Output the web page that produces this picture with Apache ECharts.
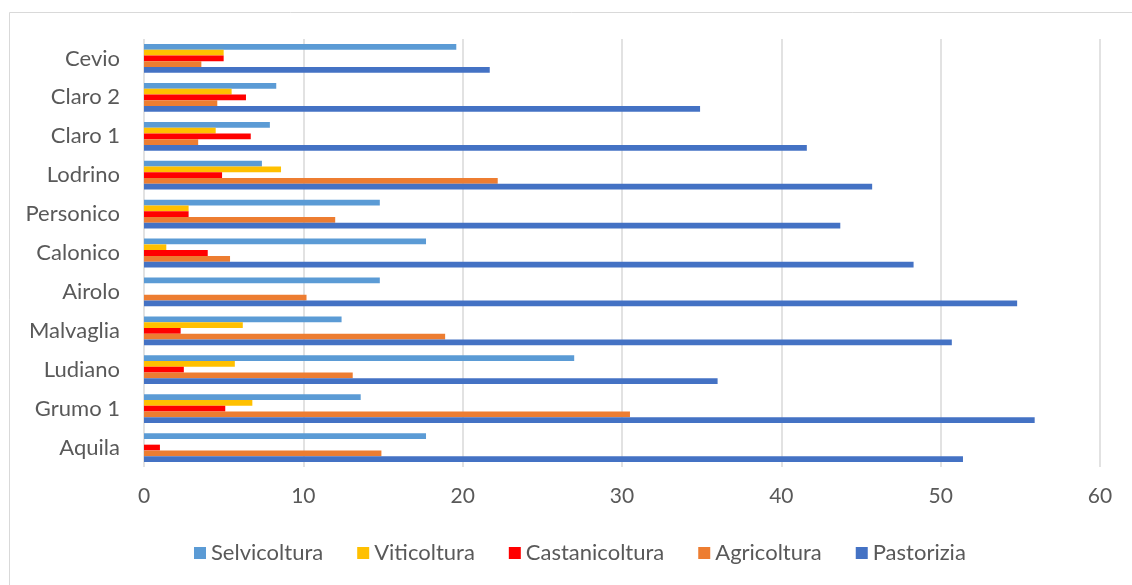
<!DOCTYPE html>
<html>
<head>
<meta charset="utf-8">
<script src="https://cdn.jsdelivr.net/npm/echarts@6/dist/echarts.min.js"></script>
<style>
html,body{margin:0;padding:0;background:#fff;}
#chart{width:1132px;height:585px;}
</style>
</head>
<body>
<div id="chart"></div>
<script>
// Categories listed bottom to top
const categories = ['Aquila', 'Grumo 1', 'Ludiano', 'Malvaglia', 'Airolo', 'Calonico', 'Personico', 'Lodrino', 'Claro 1', 'Claro 2', 'Cevio'];
const selvicoltura   = [17.7, 13.6, 27.0, 12.4, 14.8, 17.7, 14.8, 7.4, 7.9, 8.3, 19.6];
const viticoltura    = [0, 6.8, 5.7, 6.2, 0, 1.4, 2.8, 8.6, 4.5, 5.5, 5.0];
const castanicoltura = [1.0, 5.1, 2.5, 2.3, 0, 4.0, 2.8, 4.9, 6.7, 6.4, 5.0];
const agricoltura    = [14.9, 30.5, 13.1, 18.9, 10.2, 5.4, 12.0, 22.2, 3.4, 4.6, 3.6];
const pastorizia     = [51.4, 55.9, 36.0, 50.7, 54.8, 48.3, 43.7, 45.7, 41.6, 34.9, 21.7];
const xTicks = { min: 0, max: 60, interval: 10 };

const seriesDefs = [
  { name: 'Selvicoltura', data: selvicoltura, color: '#5B9BD5' },
  { name: 'Viticoltura', data: viticoltura, color: '#FFC000' },
  { name: 'Castanicoltura', data: castanicoltura, color: '#FF0000' },
  { name: 'Agricoltura', data: agricoltura, color: '#ED7D31' },
  { name: 'Pastorizia', data: pastorizia, color: '#4472C4' }
];

const font = 'Lato, "Open Sans", sans-serif';
const chart = echarts.init(document.getElementById('chart'));
chart.setOption({
  animation: false,
  backgroundColor: '#fff',
  graphic: [{
    type: 'rect',
    left: 7, top: 10,
    shape: { width: 1300, height: 700 },
    style: { fill: 'none', stroke: '#d9d9d9', lineWidth: 1 },
    silent: true, z: -1
  }],
  grid: { left: 144, right: 32, top: 39, bottom: 118 },
  legend: {
    top: 537,
    left: 189,
    itemWidth: 12, itemHeight: 12, itemGap: 34,
    icon: 'rect',
    textStyle: { color: '#595959', fontSize: 22, fontFamily: font },
    data: seriesDefs.map(s => s.name)
  },
  xAxis: {
    type: 'value',
    min: xTicks.min, max: xTicks.max, interval: xTicks.interval,
    axisLine: { show: false },
    axisTick: { show: false },
    axisLabel: { color: '#595959', fontSize: 21, fontFamily: font, margin: 19 },
    splitLine: { lineStyle: { color: '#d9d9d9', width: 1.5 } }
  },
  yAxis: {
    type: 'category',
    data: categories,
    axisLine: { show: false },
    axisTick: { show: false },
    axisLabel: { color: '#595959', fontSize: 22, fontFamily: font, margin: 24 }
  },
  series: seriesDefs.map(s => ({
    name: s.name,
    type: 'bar',
    data: s.data,
    barGap: '0%',
    barCategoryGap: '26%',
    itemStyle: { color: s.color }
  }))
});
</script>
</body>
</html>
